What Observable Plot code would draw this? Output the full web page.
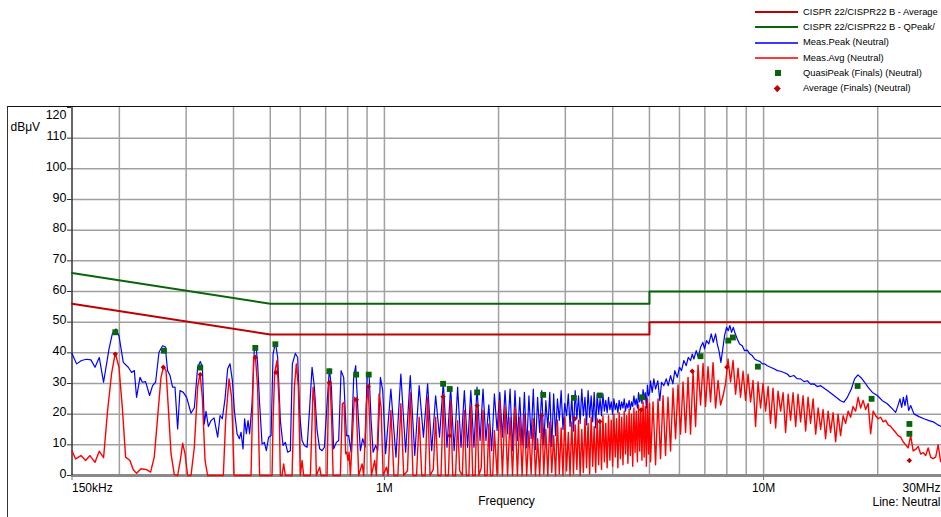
<!DOCTYPE html>
<html><head><meta charset="utf-8">
<script src="https://cdn.jsdelivr.net/npm/d3@7"></script>
<script src="https://cdn.jsdelivr.net/npm/@observablehq/plot@0.6"></script>
<style>
html,body{margin:0;padding:0;background:#fff;overflow:hidden;}
#wrap{position:relative;width:941px;height:517px;overflow:hidden;font-family:"Liberation Sans",Arial,sans-serif;}
#chart{position:absolute;left:0;top:0;}
.lg{position:absolute;white-space:nowrap;font-size:9.4px;line-height:12px;color:#000;}
#box{position:absolute;left:7px;top:106px;width:940px;height:420px;border-left:1px solid #333;border-top:1px solid #111;box-sizing:border-box;}
</style></head><body>
<div id="wrap"><div id="chart"></div><div id="legend"></div><div id="box"></div></div>
<script>
// ---- Data (frequency in MHz, level in dBµV) ----
const yTicks = [0,10,20,30,40,50,60,70,80,90,100,110,120];
const xGrid = [0.2,0.3,0.4,0.5,0.6,0.7,0.8,0.9,1,2,3,4,5,6,7,8,9,10,20];
const xTickVals = [0.15, 1, 10, 30];
const xTickLabels = ["150kHz", "1M", "10M", "30MHz"];

const qpLimit = [[0.15,66],[0.5,56],[5,56],[5,60],[30,60]];
const avgLimit = [[0.15,56],[0.5,46],[5,46],[5,50],[30,50]];

const measPeak = [
[0.150,39.8],[0.1542,36.4],[0.1589,37.5],[0.1639,37.9],[0.1683,37.7],[0.1725,35.3],[0.1770,38.5],[0.1817,30.4],[0.1878,41.3],[0.1916,46.2],[0.1959,47.8],[0.1995,45.6],[0.2048,36.9],[0.2111,35.3],[0.2154,33.6],[0.2190,34.2],[0.2220,25.5],[0.2267,32.0],[0.2299,30.4],[0.2345,30.6],[0.2403,26.1],[0.2447,29.3],[0.2492,30.4],[0.2544,40.2],[0.2600,42.3],[0.2643,42.0],[0.2680,34.2],[0.2720,32.6],[0.2763,28.8],[0.2804,28.8],[0.2849,15.2],[0.2890,27.7],[0.2949,27.1],[0.3009,25.5],[0.3090,20.3],[0.3153,22.1],[0.3217,35.3],[0.3270,37.2],[0.3310,35.3],[0.3350,16.8],[0.3385,20.9],[0.3433,16.0],[0.3490,17.9],[0.3554,18.8],[0.3633,12.5],[0.3686,19.5],[0.3737,18.5],[0.3799,25.0],[0.3860,34.8],[0.3916,36.4],[0.3972,31.0],[0.4021,21.2],[0.4087,13.6],[0.4145,12.0],[0.4187,14.1],[0.4238,8.7],[0.4279,18.5],[0.4324,13.6],[0.4369,17.9],[0.4411,13.6],[0.4476,23.4],[0.4539,41.3],[0.4586,42.3],[0.4631,36.4],[0.4687,23.4],[0.4757,10.3],[0.4824,10.8],[0.4883,8.1],[0.4951,12.5],[0.5025,13.0],[0.5086,39.6],[0.5158,43.4],[0.5230,38.5],[0.5316,17.9],[0.5404,9.8],[0.5480,10.8],[0.5557,7.6],[0.5649,8.1],[0.5718,36.4],[0.5824,39.8],[0.5906,38.5],[0.5977,20.1],[0.6065,11.4],[0.6151,9.8],[0.6253,9.2],[0.6352,22.2],[0.6445,35.3],[0.6536,28.8],[0.6644,14.7],[0.6749,8.7],[0.6849,8.1],[0.6945,9.2],[0.7060,23.4],[0.7159,34.8],[0.7247,28.8],[0.7349,8.7],[0.7470,10.8],[0.7575,11.4],[0.7687,34.2],[0.7809,32.0],[0.7938,13.0],[0.8050,13.0],[0.8169,7.6],[0.8299,32.0],[0.8400,35.8],[0.8524,20.1],[0.8643,8.1],[0.8765,12.0],[0.8894,9.2],[0.9002,32.0],[0.9112,33.1],[0.9224,17.9],[0.9337,7.6],[0.9485,9.8],[0.9602,8.1],[0.9760,32.0],[0.9898,27.7],[1.0075,7.1],
[1.040,28.2],[1.0725,6.0],[1.105,33.1],[1.1375,7.6],[1.170,32.6],[1.2025,6.5],[1.235,29.3],[1.2675,12.5],[1.300,29.9],[1.3325,8.1],[1.365,26.0],[1.3975,12.5],[1.430,30.4],[1.4625,9.2],[1.495,28.8],[1.5275,8.1],[1.560,28.8],[1.5925,9.2],[1.625,27.7],[1.6575,9.2],[1.690,27.7],[1.7225,9.2],[1.755,28.8],[1.7875,11.4],[1.820,28.2],[1.8525,11.4],[1.885,23.0],[1.9175,8.1],[1.950,26.6],[1.9825,14.7],[2.015,27.1],[2.0475,12.5],[2.080,27.7],[2.1125,13.6],[2.145,28.2],[2.1775,8.1],[2.210,27.7],[2.2425,11.4],[2.275,25.5],[2.3075,10.0],
[2.340,27.1],[2.3725,9.0],[2.405,26.0],[2.4375,12.0],[2.470,28.2],[2.5025,8.5],[2.535,25.5],[2.5675,14.0],[2.600,27.7],[2.6325,10.0],[2.665,24.4],[2.6975,15.5],[2.730,27.1],[2.7625,9.5],[2.795,26.6],[2.8275,13.0],[2.860,25.0],[2.8925,18.0],[2.925,27.7],[2.9575,15.0],[2.990,23.5],[3.0225,19.5],[3.055,26.6],[3.0875,16.0],[3.120,25.5],[3.1525,14.5],[3.185,27.7],[3.2175,18.5],[3.250,26.0],[3.2825,17.0],[3.315,28.2],[3.3475,19.5],[3.380,25.5],[3.4125,16.5],[3.445,27.7],[3.4775,19.0],[3.510,26.0],[3.5425,17.5],[3.575,27.1],[3.6075,15.5],[3.640,26.6],[3.6725,20.0],[3.705,25.0],[3.7375,19.5],[3.770,26.6],[3.8025,21.0],[3.835,24.5],[3.8675,20.5],[3.900,25.5],[3.9325,21.5],[3.965,24.0],[3.9975,20.0],[4.030,25.0],[4.0625,21.5],[4.095,23.5],[4.1275,20.5],[4.160,24.5],[4.1925,21.5],[4.225,24.0],[4.2575,22.0],[4.290,25.0],[4.3225,21.0],[4.355,23.5],[4.3875,22.0],[4.420,24.5],[4.4525,21.5],[4.485,24.0],[4.5175,22.5],[4.550,26.0],[4.5825,23.0],[4.615,25.0],[4.6475,22.0],[4.680,27.0],[4.7125,24.0],[4.745,26.0],[4.7775,23.5],[4.810,28.0],[4.8425,25.0],[4.875,27.0],[4.9075,22.0],[4.940,29.5],[4.9725,26.0],[5.005,27.0],
[5.033,30.9],[5.085,27.1],[5.135,31.5],[5.189,28.2],[5.262,30.9],[5.325,24.4],[5.381,30.4],[5.457,29.3],[5.537,31.5],[5.604,29.3],[5.683,32.6],[5.763,29.9],[5.834,34.2],[5.920,32.0],[6.003,35.3],[6.076,34.2],[6.162,37.5],[6.253,35.8],[6.329,38.5],[6.418,37.5],[6.484,39.6],[6.548,38.0],[6.644,40.7],[6.725,38.5],[6.820,41.8],[6.916,43.4],[6.987,41.3],[7.072,44.0],[7.172,42.9],[7.278,46.2],[7.367,43.4],[7.471,46.2],[7.548,42.9],[7.640,40.2],[7.715,36.9],[7.795,40.7],[7.890,45.6],[7.986,48.3],[8.069,47.2],[8.148,48.9],[8.233,46.7],[8.319,48.3],[8.420,46.2],[8.523,44.5],[8.643,42.9],[8.786,42.3],[8.909,40.7],[9.057,40.9],[9.201,39.6],[9.336,39.1],[9.467,38.0],[9.624,37.5],[9.777,37.2],[9.921,36.4],[10.06,36.4],[10.23,35.8],[10.43,35.3],[10.65,34.8],[10.87,34.2],[11.09,34.0],[11.31,33.6],[11.55,33.1],[11.73,32.2],[12.02,32.6],[12.25,31.6],[12.52,31.5],[12.78,30.6],[13.04,30.9],[13.30,29.8],[13.57,29.9],[13.85,29.0],[14.14,29.3],[14.73,27.7],[15.33,26.1],[15.96,24.4],[16.29,23.9],[16.63,25.5],[17.04,28.2],[17.38,31.5],[17.73,32.8],[18.10,31.8],[18.47,30.4],[18.85,28.8],[19.36,27.1],[19.95,26.1],[20.57,24.4],[21.20,23.4],[21.86,21.7],[22.30,20.6],[22.61,22.8],[22.89,25.0],[23.13,22.2],[23.37,25.5],[23.60,22.8],[23.84,26.1],[24.13,21.2],[24.43,22.8],[24.92,20.1],[25.69,19.2],[26.48,18.5],[27.30,17.9],[28.14,17.4],[28.73,16.6],[30.0,15.5]
];

const measAvg = [
[0.150,8.1],[0.1533,5.4],[0.1584,6.5],[0.1629,4.9],[0.1673,6.5],[0.1725,4.3],[0.1770,7.9],[0.1817,5.8],[0.1862,21.2],[0.1907,33.1],[0.1951,40.0],[0.1995,35.3],[0.2036,22.2],[0.2077,6.0],[0.2133,4.9],[0.2176,1.9],[0.2220,0.7],[0.2281,2.2],[0.2360,1.9],[0.2417,1.1],[0.2472,6.0],[0.2523,19.0],[0.2575,32.0],[0.2616,35.5],[0.2655,34.2],[0.2692,22.2],[0.2737,7.1],[0.2792,0.3],[0.2849,0],[0.2896,4.9],[0.2937,10.5],[0.2980,7.1],[0.3027,0],[0.3090,0],[0.3153,9.2],[0.3217,28.8],[0.3264,33.3],[0.3310,25.5],[0.3365,4.9],[0.3418,0],[0.3760,0],[0.3813,17.9],[0.3892,31.5],[0.3955,25.5],[0.4013,0],[0.4449,0],[0.4520,38.5],[0.4567,39.1],[0.4631,28.8],[0.4687,0],[0.5055,0],[0.5086,17.9],[0.5136,33.6],[0.5211,37.5],[0.5275,23.4],[0.5316,0],[0.5371,0],[0.5424,3.8],[0.5480,0],[0.5708,0],[0.5788,28.8],[0.5859,36.4],[0.5930,28.8],[0.6003,0],[0.6065,4.9],[0.6125,0],[0.6379,0],[0.6485,28.8],[0.6548,23.4],[0.6616,0],[0.6749,2.7],[0.6807,0],[0.7060,0],[0.7128,29.9],[0.7189,30.4],[0.7260,17.9],[0.7323,0],[0.7654,0],[0.7747,23.4],[0.7829,23.9],[0.7904,7.1],[0.7952,7.6],[0.8021,4.9],[0.8070,7.6],[0.8134,0],[0.8334,25.5],[0.8421,24.4],[0.8503,9.2],[0.8555,0],[0.8733,3.8],[0.8818,0],[0.8964,23.4],[0.9057,28.8],[0.9145,17.9],[0.9241,0],[0.9428,4.9],[0.9526,0],[0.9684,26.6],[0.9802,22.2],[0.9922,0],[1.0122,2.7],[1.0228,0],
[1.040,21.2],[1.0595,0],[1.0855,0],[1.105,23.4],[1.1245,0],[1.1505,1.5],[1.170,27.0],[1.1895,0],[1.2155,0],[1.235,19.0],[1.2545,0],[1.2805,0],[1.300,25.5],[1.3195,0],[1.3455,2.0],[1.365,19.0],[1.3845,0],[1.4105,0],[1.430,25.7],[1.4495,0],[1.4755,0],[1.495,24.4],[1.5145,0],[1.5405,0],[1.560,17.9],[1.5795,1.5],[1.6055,0],[1.625,21.2],[1.6445,0],[1.6705,0],[1.690,22.8],[1.7095,0],[1.7355,0],[1.755,23.1],[1.7745,0],[1.8005,2.5],[1.820,21.2],[1.8395,0],[1.8655,0],[1.885,16.8],[1.9045,0],[1.9305,0],
[1.950,14.7],[1.9825,0],[2.015,24.4],[2.0475,0],[2.080,22.2],[2.1125,0],[2.145,19.0],[2.1775,0],[2.210,22.2],[2.2425,0],[2.275,19.0],[2.3075,0],[2.340,20.0],[2.3725,0],[2.405,14.5],[2.4375,0.5],[2.470,18.5],[2.5025,0],[2.535,12.0],[2.5675,0],[2.600,19.5],[2.6325,0.5],[2.665,15.0],[2.6975,0],[2.730,17.5],[2.7625,1.0],[2.795,13.0],[2.8275,0],[2.860,18.0],[2.8925,0.5],[2.925,15.5],[2.9575,0],[2.990,19.0],[3.0225,1.5],[3.055,14.0],[3.0875,0],[3.120,17.5],[3.1525,0.5],[3.185,16.5],[3.2175,2.0],[3.250,18.0],[3.2825,0],[3.315,15.0],[3.3475,1.0],[3.380,18.5],[3.4125,2.5],[3.445,17.0],[3.4775,0.5],[3.510,19.0],[3.5425,3.0],[3.575,16.0],[3.6075,1.0],[3.640,18.5],[3.6725,3.5],[3.705,17.5],[3.7375,2.0],[3.770,19.5],[3.8025,4.5],[3.835,17.0],[3.8675,2.5],[3.900,19.5],[3.9325,5.0],[3.965,18.0],[3.9975,3.0],[4.030,20.0],[4.0625,6.0],[4.095,18.5],[4.1275,2.5],[4.160,20.5],[4.1925,5.5],[4.225,19.0],[4.2575,3.5],[4.290,21.0],[4.3225,7.0],[4.355,19.5],[4.3875,4.0],[4.420,21.5],[4.4525,6.5],[4.485,20.0],[4.5175,3.0],[4.550,22.0],[4.5825,7.5],[4.615,21.0],[4.6475,4.5],[4.680,23.0],[4.7125,8.0],[4.745,21.5],[4.7775,5.0],[4.810,24.0],[4.8425,6.0],[4.875,22.5],[4.9075,3.0],[4.940,25.0],[4.9725,7.0],[5.005,23.5],
[5.033,4.5],[5.110,24.0],[5.189,3.5],[5.268,25.0],[5.348,5.5],[5.430,26.0],[5.513,6.5],[5.597,25.5],[5.683,8.0],[5.770,28.5],[5.859,12.0],[5.948,29.5],[6.039,13.5],[6.132,30.5],[6.226,14.0],[6.321,32.0],[6.418,13.5],[6.516,34.0],[6.616,16.0],[6.717,36.0],[6.820,23.0],[6.924,36.5],[7.030,22.5],[7.137,35.5],[7.247,24.0],[7.358,36.8],[7.471,22.0],[7.585,31.0],[7.701,23.0],[7.819,26.0],[7.939,30.0],[8.060,38.0],[8.183,30.5],[8.308,37.5],[8.436,26.5],[8.565,35.0],[8.695,25.5],[8.828,34.0],[8.964,24.5],[9.101,33.0],[9.240,24.0],[9.381,31.0],[9.525,16.0],[9.670,30.5],[9.819,22.0],[9.969,30.0],[10.12,21.0],[10.28,29.0],[10.43,17.0],[10.59,28.5],[10.76,15.5],[10.92,27.5],[11.09,21.0],[11.26,27.0],[11.43,14.0],[11.61,26.5],[11.78,18.0],[11.96,27.0],[12.15,16.0],[12.33,26.5],[12.52,17.5],[12.71,26.0],[12.91,14.5],[13.10,25.5],[13.30,17.0],[13.51,25.0],[13.72,13.5],[13.93,22.0],[14.14,15.0],[14.35,21.5],[14.57,12.0],[14.80,21.0],[15.02,14.0],[15.25,20.5],[15.49,11.0],[15.72,20.0],[15.96,13.0],[16.21,19.5],[16.46,17.0],[16.71,21.0],[16.96,19.0],[17.22,22.5],[17.49,21.0],[17.76,25.5],[18.03,22.0],[18.30,24.5],[18.58,21.5],[18.87,23.5],[19.16,13.6],[19.45,21.0],[19.75,19.5],[20.05,18.5],[20.36,19.0],[20.67,17.5],[20.99,18.0],[21.31,16.5],[21.63,16.0],[21.96,15.0],[22.30,14.0],[22.64,13.0],[22.99,12.5],[23.34,11.0],[23.70,10.0],[24.06,9.0],[24.43,13.0],[24.80,8.0],[25.18,8.5],[25.57,9.5],[25.96,7.0],[26.35,7.5],[26.76,6.5],[27.17,9.0],[27.58,6.0],[28.00,5.5],[28.43,6.0],[28.87,10.0],[29.31,4.5],[30.0,5.0]
];

const qpFinals = [[0.1951,46.7],[0.2622,40.7],[0.3269,35.2],[0.4566,41.6],[0.5157,42.8],[0.7157,34.0],[0.8421,32.9],[0.9091,32.9],[1.428,29.9],[1.487,28.2],[1.756,27.1],[2.623,26.3],[3.160,25.3],[3.699,26.1],[4.785,25.5],[6.82,38.9],[8.07,44.0],[8.30,45.0],[9.66,35.5],[17.7,29.2],[19.27,25.0],[24.24,16.8],[24.24,13.6]];
const avgFinals = [[0.1951,39.6],[0.2612,35.3],[0.3269,32.9],[0.4566,38.5],[0.5180,33.6],[0.7157,30.3],[0.8436,24.7],[0.9074,29.0],[1.428,25.7],[1.487,13.0],[1.756,22.8],[2.596,19.5],[3.178,18.5],[3.699,17.6],[4.756,21.4],[6.484,34.0],[8.00,35.3],[24.24,4.9]];

const legendLabels = ["CISPR 22/CISPR22 B - Average","CISPR 22/CISPR22 B - QPeak/","Meas.Peak (Neutral)","Meas.Avg (Neutral)","QuasiPeak (Finals) (Neutral)","Average (Finals) (Neutral)"];
const legendKinds = ["line","line","line","line","square","diamond"];
const legendColors = ["#c00000","#0a640a","#3a3aff","#ff3a3a","#0a640a","#c00000"];
const legendWidths = [2,2,1.5,1.5,0,0];

// ---- Chart ----
const xLabelAnchors = ["start","middle","middle","end"];
const xLabels = xTickVals.map((v,i)=>({v, t: xTickLabels[i], a: xLabelAnchors[i]}));
const F = d => d[0], V = d => d[1];
const font = "Liberation Sans, Arial, sans-serif";

const chart = Plot.plot({
  width: 941, height: 517,
  marginTop: 107, marginBottom: 42, marginLeft: 71, marginRight: 0,
  style: {fontFamily: font, fontSize: "12px", background: "white", color: "#000"},
  x: {type: "log", domain: [0.15, 30], range: [71.5, 944]},
  y: {domain: [0, 120]},
  marks: [
    Plot.ruleX(xGrid, {stroke: "#a0a0a0", strokeWidth: 1.5}),
    Plot.ruleY(yTicks.filter(d => d > 0 && d < 120), {stroke: "#a0a0a0", strokeWidth: 1.5}),
    Plot.ruleY([0], {stroke: "#8a8a8a", strokeWidth: 3}),
    Plot.ruleX([0.15], {stroke: "#333", strokeWidth: 1.5}),
    Plot.axisY({ticks: yTicks, tickSize: 4, tickFormat: () => "", label: null, stroke: "#333"}),
    Plot.axisX({ticks: xTickVals, tickSize: 5, tickFormat: () => "", label: null, stroke: "#777"}),
    Plot.text(yTicks.filter(d => d < 120), {y: d => d, text: d => String(d), frameAnchor: "left", dx: -5, dy: -2, textAnchor: "end", fontSize: 12.5}),
    Plot.text(yTicks.filter(d => d === 120), {y: d => d, text: d => String(d), frameAnchor: "left", dx: -5, dy: 7, textAnchor: "end", fontSize: 12.5}),
    Plot.text(["dBμV"], {frameAnchor: "top-left", dx: -61, dy: 20, lineAnchor: "middle", textAnchor: "start", fontSize: 12}),
    Plot.text(xLabels.filter(d => d.a === "start"), {x: "v", y: () => 0, text: "t", textAnchor: "start", dy: 13, fontSize: 12}),
    Plot.text(xLabels.filter(d => d.a === "middle"), {x: "v", y: () => 0, text: "t", textAnchor: "middle", dy: 13, fontSize: 12}),
    Plot.text(xLabels.filter(d => d.a === "end"), {x: "v", y: () => 0, text: "t", textAnchor: "end", dx: -4, dy: 13, fontSize: 12}),
    Plot.text(["Frequency"], {frameAnchor: "bottom", lineAnchor: "middle", dy: 26, fontSize: 12}),
    Plot.text(["Line: Neutral"], {frameAnchor: "bottom-right", lineAnchor: "middle", textAnchor: "end", dx: -1, dy: 27, fontSize: 12}),
    Plot.line(qpLimit, {x: F, y: V, stroke: "#0a640a", strokeWidth: 2}),
    Plot.line(avgLimit, {x: F, y: V, stroke: "#c00000", strokeWidth: 2}),
    Plot.line(measPeak, {x: F, y: V, stroke: "#0000ff", strokeWidth: 1.2}),
    Plot.line(measAvg, {x: F, y: V, stroke: "#ff0000", strokeWidth: 1.4}),
    Plot.dot(qpFinals, {x: F, y: V, symbol: "square", r: 3.3, fill: "#0a640a", stroke: "none"}),
    Plot.dot(avgFinals, {x: F, y: V, symbol: "diamond2", r: 2.4, fill: "#c00000", stroke: "none"})
  ]
});
document.getElementById("chart").appendChild(chart);

// ---- Legend ----
const lg = document.getElementById("legend");
legendLabels.forEach((label, i) => {
  const cy = 11.7 + i * 15.3;
  if (legendKinds[i] === "line") {
    const l = document.createElement("div");
    l.className = "lg";
    l.style.left = "755px"; l.style.width = "43px";
    l.style.top = Math.round(cy - legendWidths[i] / 2) + "px";
    l.style.height = legendWidths[i] + "px";
    l.style.background = legendColors[i];
    lg.appendChild(l);
  } else {
    const m = document.createElement("div");
    m.className = "lg";
    const s = legendKinds[i] === "square" ? 6 : 4.5;
    m.style.left = (777.7 - s / 2) + "px"; m.style.top = (cy - s / 2) + "px";
    m.style.width = s + "px"; m.style.height = s + "px";
    m.style.background = legendColors[i];
    if (legendKinds[i] === "diamond") m.style.transform = "rotate(45deg)";
    lg.appendChild(m);
  }
  const t = document.createElement("div");
  t.className = "lg";
  t.style.left = "803px"; t.style.top = (cy - 6) + "px";
  t.textContent = label;
  lg.appendChild(t);
});
</script></body></html>
